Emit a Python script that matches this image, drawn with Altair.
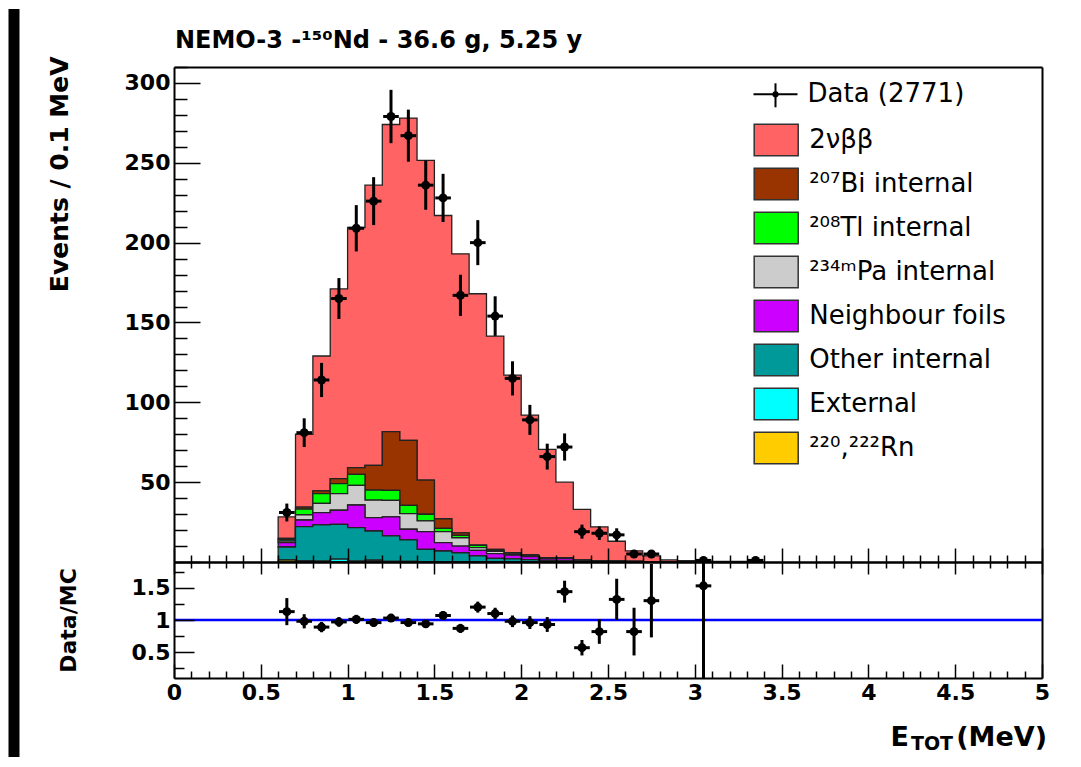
import altair as alt
import pandas as pd

# ---------------- data ----------------
bin_lo = [0.6, 0.7, 0.8, 0.9, 1.0, 1.1, 1.2, 1.3, 1.4, 1.5, 1.6, 1.7, 1.8, 1.9,
          2.0, 2.1, 2.2, 2.3, 2.4, 2.5, 2.6, 2.7, 2.8, 2.9, 3.0, 3.1, 3.2, 3.3]
bin_width = 0.1

two_nu = [13.4, 45.6, 84.5, 118.8, 150.4, 175.5, 192.4, 201.8, 200.2, 189.9,
          174.7, 157.4, 133.6, 111.2, 87.6, 67.8, 47.4, 31.8, 21.2, 12.5,
          6.7, 3.6, 1.3, 0.8, 0.6, 0.4, 0.3, 0.2]
bi207 = [0.7, 1.3, 1.7, 3.1, 4.2, 15.5, 36.7, 40.7, 21.4, 6.0,
         1.6, 0.2, 0.6, 0.3, 0.2, 0.1, 0.1, 0, 0, 0,
         0, 0, 0, 0, 0, 0, 0, 0]
tl208 = [1.0, 3.5, 6.1, 6.3, 6.9, 6.3, 6.3, 5.2, 4.2, 2.1,
         1.5, 1.4, 0.6, 0.4, 0.3, 0.1, 0.1, 0.1, 0, 0,
         0, 0, 0, 0, 0, 0, 0, 0]
pa234m = [1.0, 3.3, 5.8, 10.4, 12.3, 10.9, 10.4, 9.8, 6.7, 6.9,
          5.2, 1.7, 1.5, 0.8, 0.5, 0.3, 0.2, 0.1, 0, 0,
          0, 0, 0, 0, 0, 0, 0, 0]
neighbour = [2.7, 4.2, 7.7, 8.8, 14.2, 8.4, 11.9, 6.7, 11.1, 5.2,
             4.2, 3.5, 2.9, 2.3, 1.9, 1.2, 1.5, 0.6, 0.5, 0.3,
             0.2, 0.1, 0, 0, 0, 0, 0, 0]
other_int = [8.2, 21.4, 22.7, 21.8, 20.9, 18.3, 15.9, 13.4, 7.7, 6.8,
             5.8, 3.8, 2.3, 2.0, 1.5, 1.0, 0.7, 0.4, 0.3, 0.2,
             0.1, 0.1, 0, 0, 0, 0, 0, 0]
external = [0, 0.5, 0.3, 1.7, 0.5, 1.0, 0.3, 0.3, 0.2, 0.1,
            0, 0, 0, 0, 0, 0, 0, 0, 0, 0,
            0, 0, 0, 0, 0, 0, 0, 0]
radon = [1.2, 0.2, 0.2, 0.1, 0.1, 0.1, 0.1, 0.1, 0, 0,
         0, 0, 0, 0, 0, 0, 0, 0, 0, 0,
         0, 0, 0, 0, 0, 0, 0, 0]

comp_names = ["2νββ", "²⁰⁷Bi internal", "²⁰⁸Tl internal", "²³⁴ᵐPa internal",
              "Neighbour foils", "Other internal", "External", "²²⁰,²²²Rn"]
comp_colors = ["#FF6363", "#993300", "#00FF00", "#CCCCCC",
               "#CC00FF", "#009999", "#00FFFF", "#FFCC00"]
comp_series = [two_nu, bi207, tl208, pa234m, neighbour, other_int, external, radon]

data_x = [0.65, 0.75, 0.85, 0.95, 1.05, 1.15, 1.25, 1.35, 1.45, 1.55, 1.65, 1.75,
          1.85, 1.95, 2.05, 2.15, 2.25, 2.35, 2.45, 2.55, 2.65, 2.75, 3.05, 3.35]
data_n = [31, 81, 114, 165, 209, 226, 279, 267, 236, 228, 167, 200,
          154, 115, 89, 66, 72, 19, 18, 17, 5, 5, 1, 1]
data_err = [5.6, 9.0, 10.7, 12.8, 14.5, 15.0, 16.7, 16.3, 15.4, 15.1, 12.9, 14.1,
            12.4, 10.7, 9.4, 8.1, 8.5, 4.4, 4.2, 4.1, 2.2, 2.2, 1.3, 1.3]

ratio_x = [0.65, 0.75, 0.85, 0.95, 1.05, 1.15, 1.25, 1.35, 1.45, 1.55, 1.65, 1.75,
           1.85, 1.95, 2.05, 2.15, 2.25, 2.35, 2.45, 2.55, 2.65, 2.75, 3.05]
ratio_v = [1.13, 0.98, 0.89, 0.97, 1.01, 0.96, 1.03, 0.96, 0.94, 1.07, 0.87, 1.20,
           1.10, 0.98, 0.96, 0.93, 1.44, 0.57, 0.82, 1.32, 0.82, 1.30, 1.53]
ratio_err = [0.21, 0.11, 0.08, 0.075, 0.07, 0.065, 0.06, 0.06, 0.06, 0.07, 0.07, 0.085,
             0.09, 0.09, 0.10, 0.115, 0.17, 0.12, 0.19, 0.32, 0.37, 0.57, 1.6]

x_major = [0, 0.5, 1, 1.5, 2, 2.5, 3, 3.5, 4, 4.5, 5]
x_minor = [0.1, 0.2, 0.3, 0.4, 0.6, 0.7, 0.8, 0.9, 1.1, 1.2, 1.3, 1.4, 1.6, 1.7, 1.8, 1.9,
           2.1, 2.2, 2.3, 2.4, 2.6, 2.7, 2.8, 2.9, 3.1, 3.2, 3.3, 3.4, 3.6, 3.7, 3.8, 3.9,
           4.1, 4.2, 4.3, 4.4, 4.6, 4.7, 4.8, 4.9]
y_major_top = [0, 50, 100, 150, 200, 250, 300]
y_label_top = [50, 100, 150, 200, 250, 300]
y_minor_top = [10, 20, 30, 40, 60, 70, 80, 90, 110, 120, 130, 140, 160, 170, 180, 190,
               210, 220, 230, 240, 260, 270, 280, 290, 310]
r_major = [0.5, 1, 1.5]
r_minor = [0.25, 0.75, 1.25, 1.75]

title_text = "NEMO-3 -¹⁵⁰Nd - 36.6 g, 5.25 y"
data_label = "Data (2771)"

# ---------------- tables ----------------
rows = []
n_comp = len(comp_names)
end_edge = round(bin_lo[-1] + bin_width, 2)
for k, (name, vals) in enumerate(zip(comp_names, comp_series)):
    for xe, v in zip(bin_lo + [end_edge], vals + [vals[-1]]):
        rows.append({"x": xe, "v": v, "comp": name, "idx": n_comp - 1 - k})
hist_df = pd.DataFrame(rows)

half = 0.045
pts_df = pd.DataFrame({"c": data_x, "n": data_n, "e": data_err})
pts_df["lo"] = pts_df["n"] - pts_df["e"]
pts_df["hi"] = pts_df["n"] + pts_df["e"]
pts_df["xl"] = pts_df["c"] - half
pts_df["xh"] = pts_df["c"] + half

rat_df = pd.DataFrame({"c": ratio_x, "r": ratio_v, "e": ratio_err})
rat_df["lo"] = rat_df["r"] - rat_df["e"]
rat_df["hi"] = rat_df["r"] + rat_df["e"]
rat_df["xl"] = rat_df["c"] - half
rat_df["xh"] = rat_df["c"] + half

one = pd.DataFrame({"x0": [0.0], "x1": [5.0], "r": [1.0], "x5": [5.0]})

# ---------------- layout constants ----------------
W, H1, H2 = 868, 495, 116
BOLD = "DejaVu Sans"
LEGF = "DejaVu Sans"
xs = alt.Scale(domain=[0, 5], nice=False, zero=False)
ys_top = alt.Scale(domain=[0, 310], nice=False)
ys_bot = alt.Scale(domain=[0.1, 1.9], nice=False)


def tick_axis(orient, values, size, offset, domain):
    return alt.Axis(orient=orient, values=values, ticks=True, tickSize=size,
                    tickWidth=1.5, tickColor="black", labels=False, domain=domain,
                    domainColor="black", domainWidth=2, grid=False, offset=offset,
                    title=None, zindex=1)


def frame_axis(orient):
    return alt.Axis(orient=orient, ticks=False, labels=False, domain=True,
                    domainColor="black", domainWidth=2, grid=False, title=None,
                    zindex=1)


def label_axis(orient, values, **kw):
    return alt.Axis(orient=orient, values=values, ticks=False, tickSize=0,
                    domain=False, grid=False, labels=True, labelFont=BOLD,
                    labelFontWeight="bold", labelFontSize=22, labelColor="black",
                    labelPadding=4, format=".1~f", labelFlush=False,
                    labelOverlap=False, zindex=1, **kw)


# ---------------- top panel ----------------
# black strip of the picture's frame at the left edge
strip = alt.Chart(one).mark_rect(color="black").encode(
    x=alt.value(-165.5), x2=alt.value(-154.5), y=alt.value(-58), y2=alt.value(690))

title_mark = alt.Chart(one).mark_text(
    text=title_text, align="left", baseline="alphabetic", font=BOLD,
    fontWeight="bold", fontSize=24, color="black"
).encode(x=alt.value(1), y=alt.value(-19))

area = alt.Chart(hist_df).mark_area(
    interpolate="step-after", stroke="#222222", strokeWidth=1.3, opacity=1
).encode(
    x=alt.X("x:Q", scale=xs, axis=tick_axis("top", x_major, 14, -H1, True)),
    y=alt.Y("v:Q", stack="zero", scale=ys_top,
            axis=label_axis("left", y_label_top, title="Events / 0.1 MeV",
                            titleFont=BOLD, titleFontWeight="bold",
                            titleFontSize=25, titleColor="black", titleAngle=270,
                            titleAlign="right", titleBaseline="alphabetic",
                            titleX=-106.5, titleY=-11)),
    color=alt.Color("comp:N",
                    scale=alt.Scale(domain=comp_names, range=comp_colors),
                    legend=alt.Legend(orient="none", legendX=579.2, legendY=50.0,
                                      title=None,
                                      symbolType="M-1,-0.72H1V0.72H-1Z",
                                      symbolSize=1936, symbolStrokeColor="#333333",
                                      symbolStrokeWidth=1.5, symbolOpacity=1,
                                      labelFont=LEGF, labelFontSize=26,
                                      labelColor="black", labelOffset=10,
                                      labelLimit=400, rowPadding=2.0, padding=0)),
    order=alt.Order("idx:Q", sort="ascending"),
)

verr = alt.Chart(pts_df).mark_rule(color="black", strokeWidth=3, clip=True).encode(
    x=alt.X("c:Q", scale=xs, axis=tick_axis("top", x_minor, 7, -H1, False)),
    y=alt.Y("lo:Q", scale=ys_top, axis=tick_axis("right", y_major_top, 26, -W, True)),
    y2="hi:Q",
)
herr = alt.Chart(pts_df).mark_rule(color="black", strokeWidth=3, clip=True).encode(
    x=alt.X("xl:Q", scale=xs, axis=frame_axis("top")),
    x2="xh:Q",
    y=alt.Y("n:Q", scale=ys_top, axis=tick_axis("right", y_minor_top, 13, -W, False)),
)
pts = alt.Chart(pts_df).mark_point(filled=True, shape="circle", size=80,
                                   color="black", opacity=1, clip=True).encode(
    x=alt.X("c:Q", scale=xs, axis=None),
    y=alt.Y("n:Q", scale=ys_top, axis=frame_axis("right")),
)

# data legend entry (crosshair + dot + label)
leg_h = alt.Chart(one).mark_rule(color="black", strokeWidth=2).encode(
    x=alt.value(579.5), x2=alt.value(623.5), y=alt.value(27.3))
leg_v = alt.Chart(one).mark_rule(color="black", strokeWidth=2).encode(
    x=alt.value(601.5), y=alt.value(16.3), y2=alt.value(40.3))
leg_d = alt.Chart(one).mark_point(filled=True, shape="circle", size=40,
                                  color="black", opacity=1).encode(
    x=alt.value(601.5), y=alt.value(27.3))
leg_t = alt.Chart(one).mark_text(text=data_label, align="left", baseline="middle",
                                 font=LEGF, fontSize=26, color="black").encode(
    x=alt.value(633.5), y=alt.value(27.3))

top = alt.layer(strip, area, verr, herr, pts, leg_h, leg_v, leg_d, leg_t,
                title_mark).resolve_axis(
    x="independent", y="independent"
).properties(width=W, height=H1)

# ---------------- ratio panel ----------------
blue = alt.Chart(one).mark_rule(color="#0000FF", strokeWidth=2.5).encode(
    x=alt.X("x0:Q", scale=xs, axis=label_axis("bottom", x_major, title=None)),
    x2="x1:Q",
    y=alt.Y("r:Q", scale=ys_bot,
            axis=label_axis("left", r_major, title="Data/MC", titleFont=BOLD,
                            titleFontWeight="bold", titleFontSize=22,
                            titleColor="black", titleAngle=270, titleAlign="center",
                            titleBaseline="alphabetic", titleX=-98.5, titleY=58)),
)
rverr = alt.Chart(rat_df).mark_rule(color="black", strokeWidth=3, clip=True).encode(
    x=alt.X("c:Q", scale=xs, axis=tick_axis("top", x_major, 14, -H2, True)),
    y=alt.Y("lo:Q", scale=ys_bot, axis=tick_axis("right", r_major, 20, -W, True)),
    y2="hi:Q",
)
rherr = alt.Chart(rat_df).mark_rule(color="black", strokeWidth=3, clip=True).encode(
    x=alt.X("xl:Q", scale=xs, axis=tick_axis("top", x_minor, 7, -H2, False)),
    x2="xh:Q",
    y=alt.Y("r:Q", scale=ys_bot, axis=tick_axis("right", r_minor, 10, -W, False)),
)
rpts = alt.Chart(rat_df).mark_point(filled=True, shape="circle", size=80,
                                    color="black", opacity=1, clip=True).encode(
    x=alt.X("c:Q", scale=xs, axis=tick_axis("bottom", x_major, 12, -H2, True)),
    y=alt.Y("r:Q", scale=ys_bot, axis=frame_axis("right")),
)
t_e = alt.Chart(one).mark_text(text="E", align="right", baseline="alphabetic",
                               font=BOLD, fontWeight="bold", fontSize=27,
                               color="black", dx=-133).encode(
    x=alt.X("x5:Q", scale=xs, axis=tick_axis("bottom", x_minor, 6, -H2, False)),
    y=alt.value(184))
t_tot = alt.Chart(one).mark_text(text="TOT", align="right", baseline="alphabetic",
                                 font=BOLD, fontWeight="bold", fontSize=19,
                                 color="black", dx=-89).encode(
    x=alt.X("x5:Q", scale=xs, axis=None), y=alt.value(188))
t_mev = alt.Chart(one).mark_text(text="(MeV)", align="right", baseline="alphabetic",
                                 font=BOLD, fontWeight="bold", fontSize=27,
                                 color="black", dx=5).encode(
    x=alt.X("x5:Q", scale=xs, axis=None), y=alt.value(184))

bot = alt.layer(blue, rverr, rherr, rpts, t_e, t_tot, t_mev).resolve_axis(
    x="independent", y="independent"
).properties(width=W, height=H2)

chart = alt.vconcat(top, bot, spacing=0, bounds="flush").properties(
    padding={"left": 0, "top": 0, "right": 0, "bottom": 0},
    background="white",
).configure_view(stroke="transparent")

chart.save("out.html", embed_options={"renderer": "svg", "actions": False})
